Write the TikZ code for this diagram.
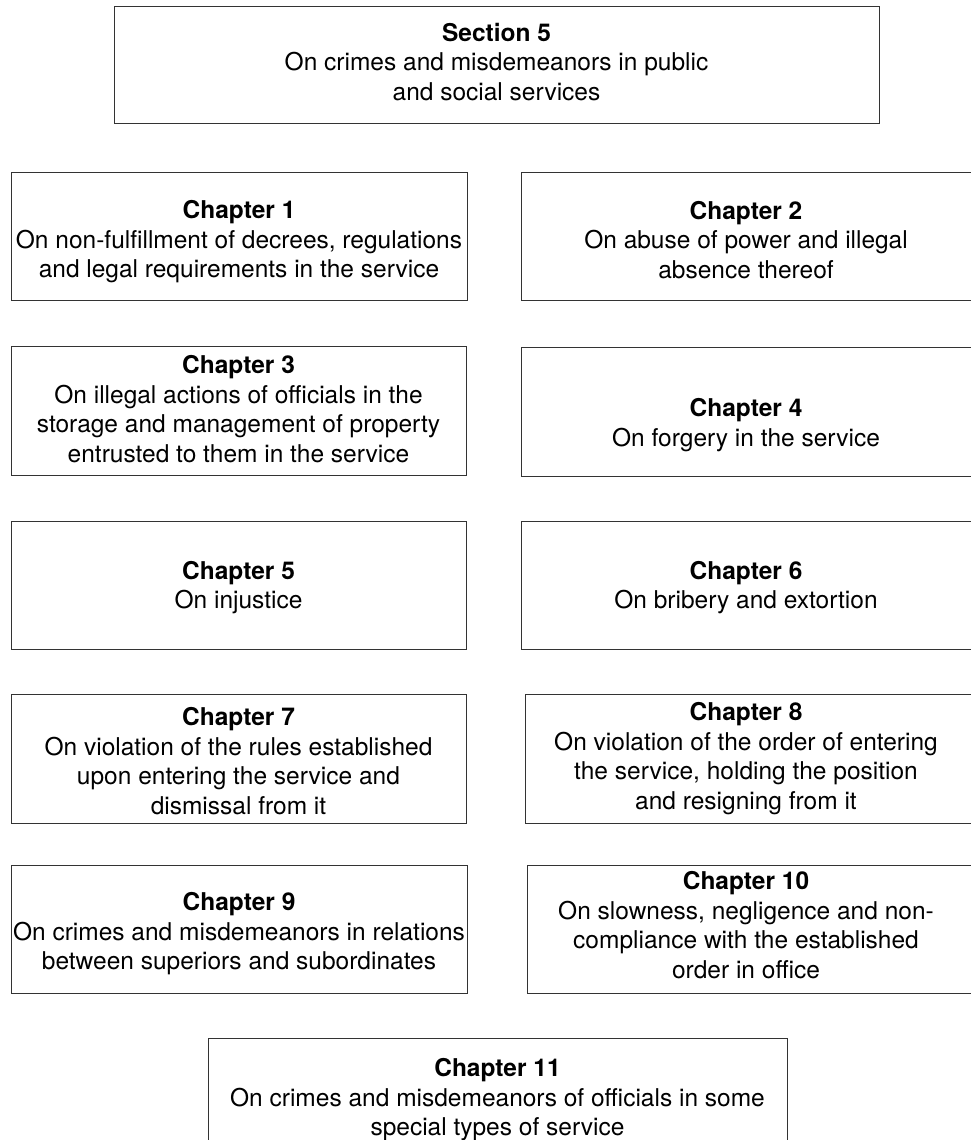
\documentclass[tikz,border=0pt]{standalone}
\usepackage{fontspec}
\setmainfont{TeX Gyre Heros}
\begin{document}
\begin{tikzpicture}[x=1pt,y=-1pt,
  frame/.style={draw=black!80, line width=0.9pt, inner sep=0pt},
  txt/.style={align=center, inner sep=0pt, font=\fontsize{24.5}{29.5}\selectfont}]
\useasboundingbox (0,0) rectangle (971,1140);
\clip (0,0) rectangle (971,1140);
\node[frame, minimum width=765, minimum height=117] (s5) at (496.5,64.5) {};
\node[txt] (s5t) at (496.5,62) {\textbf{Section 5}\\On crimes and misdemeanors in public\\and social services};
\node[frame, minimum width=456, minimum height=128] (c1) at (239,236) {};
\node[txt] (c1t) at (239,242) {\textbf{Chapter 1}\\On non-fulfillment of decrees, regulations\\and legal requirements in the service};
\node[frame, minimum width=452, minimum height=128] (c2) at (747,236) {};
\node[txt] (c2t) at (746,240) {\textbf{Chapter 2}\\On abuse of power and illegal\\absence thereof};
\node[frame, minimum width=455, minimum height=129] (c3) at (238.5,410.5) {};
\node[txt] (c3t) at (238.5,409) {\textbf{Chapter 3}\\On illegal actions of officials in the\\storage and management of property\\entrusted to them in the service};
\node[frame, minimum width=452, minimum height=129] (c4) at (747,411.5) {};
\node[txt] (c4t) at (746,425) {\textbf{Chapter 4}\\On forgery in the service};
\node[frame, minimum width=455, minimum height=128] (c5) at (238.5,585) {};
\node[txt] (c5t) at (238.5,587.5) {\textbf{Chapter 5}\\On injustice};
\node[frame, minimum width=452, minimum height=128] (c6) at (747,585) {};
\node[txt] (c6t) at (746,587.5) {\textbf{Chapter 6}\\On bribery and extortion};
\node[frame, minimum width=455, minimum height=129] (c7) at (238.5,758.5) {};
\node[txt] (c7t) at (238.5,761) {\textbf{Chapter 7}\\On violation of the rules established\\upon entering the service and\\dismissal from it};
\node[frame, minimum width=448, minimum height=129] (c8) at (749,758.5) {};
\node[txt] (c8t) at (746,758.5) {\textbf{Chapter 8}\\On violation of the order of entering\\the service, holding the position\\and resigning from it};
\node[frame, minimum width=456, minimum height=128] (c9) at (239,929) {};
\node[txt] (c9t) at (239,934) {\textbf{Chapter 9}\\On crimes and misdemeanors in relations\\between superiors and subordinates};
\node[frame, minimum width=446, minimum height=128] (c10) at (750,929) {};
\node[txt] (c10t) at (746,925) {\textbf{Chapter 10}\\On slowness, negligence and non-\\compliance with the established\\order in office};
\node[frame, minimum width=579, minimum height=138] (c11) at (497.5,1107) {};
\node[txt] (c11t) at (497.5,1100) {\textbf{Chapter 11}\\On crimes and misdemeanors of officials in some\\special types of service};
\end{tikzpicture}
\end{document}
